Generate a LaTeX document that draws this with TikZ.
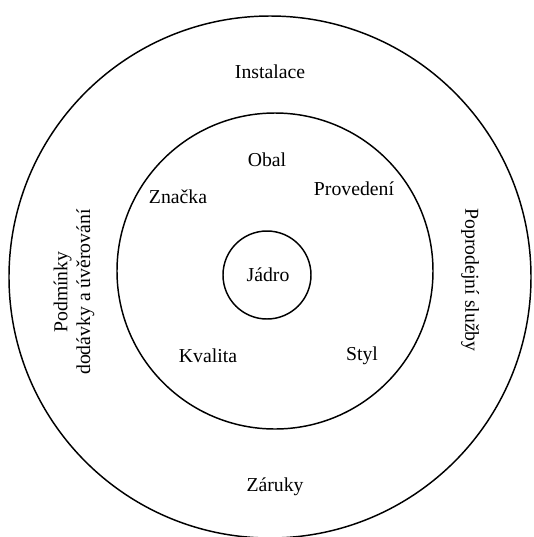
\documentclass[tikz,border=0pt]{standalone}
\usepackage{fontspec}
\setmainfont{Liberation Serif}
\begin{document}
\begin{tikzpicture}[x=0.75pt,y=-0.75pt,line width=1.1pt,
    label/.style={font=\fontsize{14.8}{17}\selectfont,align=center,inner sep=0pt}]
            \useasboundingbox (0,0) rectangle (534,537);
            \draw (270,277) circle (261);
            \draw (275,271) circle (158);
            \draw (267,275) circle (44);
            \node[label] (jadro) at (268,275) {Jádro};
            \node[label] (instalace) at (270,72) {Instalace};
            \node[label] (obal) at (267,160) {Obal};
            \node[label] (znacka) at (178,197) {Značka};
            \node[label] (provedeni) at (354,189) {Provedení};
            \node[label] (kvalita) at (208,356) {Kvalita};
            \node[label] (styl) at (362,356) {Styl};
            \node[label] (zaruky) at (275,487) {Záruky};
            \node[label,rotate=90] (podminky) at (74,292) {Podmínky\\dodávky a úvěrování};
            \node[label,rotate=-90] (sluzby) at (470,280) {Poprodejní služby};
        \end{tikzpicture}
\end{document}
